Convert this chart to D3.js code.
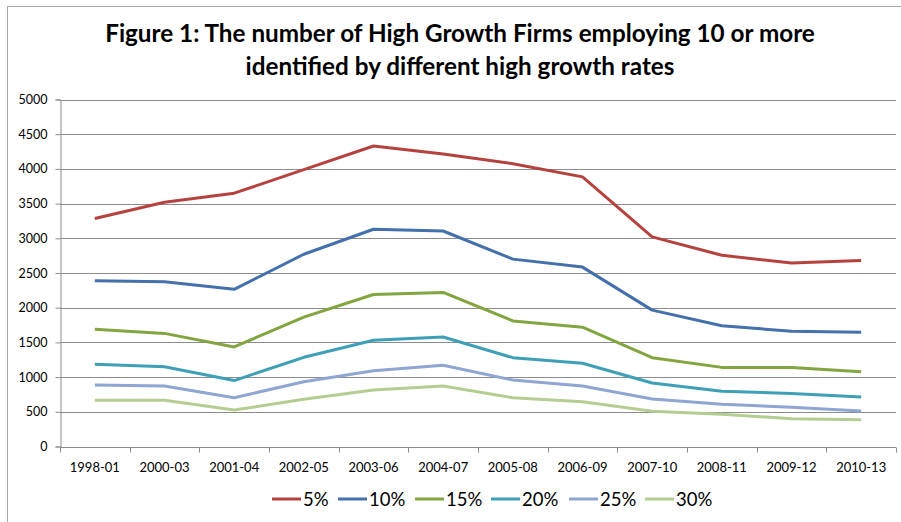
<!DOCTYPE html>
<html>
<head>
<meta charset="utf-8">
<script src="https://cdn.jsdelivr.net/npm/d3@7"></script>
<style>
  body { margin: 0; background: #fff; }
  text { font-family: Lato, "Open Sans", sans-serif; fill: #000; }
</style>
</head>
<body>
<div id="chart"></div>
<script>
////////////////
// Data
////////////////

var periods = ['1998-01','2000-03','2001-04','2002-05','2003-06','2004-07',
               '2005-08','2006-09','2007-10','2008-11','2009-12','2010-13']

var rates = ['5%','10%','15%','20%','25%','30%']

var rate5  = [3285, 3520, 3650, 3990, 4330, 4215, 4075, 3885, 3020, 2755, 2645, 2680]
var rate10 = [2390, 2375, 2265, 2770, 3130, 3105, 2700, 2585, 1965, 1740, 1660, 1645]
var rate15 = [1690, 1630, 1435, 1865, 2190, 2220, 1810, 1720, 1280, 1140, 1140, 1078]
var rate20 = [1185, 1150,  950, 1285, 1530, 1578, 1280, 1200,  915,  795,  765,  715]
var rate25 = [ 886,  872,  703,  934, 1092, 1170,  958,  872,  684,  608,  565,  512]
var rate30 = [ 666,  666,  526,  680,  814,  872,  703,  646,  507,  464,  401,  386]

var yTicks = [0,500,1000,1500,2000,2500,3000,3500,4000,4500,5000]

var colors = ['#B6423F','#4470AC','#82A540','#3E9FB7','#8FA5D2','#B5CD92']

var seriesData = [rate5, rate10, rate15, rate20, rate25, rate30]
var series = rates.map(function(r, i) { return {name: r, values: seriesData[i], color: colors[i]} })

////////////////
// Layout
////////////////

var w = 901, h = 522
var plotL = 60, plotR = 896, plotT = 99.5, plotB = 446.5

var svg = d3.select('#chart').append('svg')
  .attr('width', w)
  .attr('height', h)

// chart border (only top & left show in frame)
svg.append('rect')
  .attr('x', 7.5).attr('y', 6.5)
  .attr('width', w + 10).attr('height', h + 10)
  .attr('fill', 'none')
  .attr('stroke', '#a6a6a6')
  .attr('stroke-width', 1)

var x = d3.scaleBand().domain(periods).range([plotL, plotR])
var y = d3.scaleLinear().domain([0, 5000]).range([plotB, plotT])

// gridlines
svg.append('g')
  .selectAll('line')
  .data(yTicks.slice(1))
  .enter()
  .append('line')
  .attr('x1', plotL).attr('x2', plotR)
  .attr('y1', d => Math.round(y(d)) + 0.5)
  .attr('y2', d => Math.round(y(d)) + 0.5)
  .attr('stroke', '#8c8c8c')
  .attr('stroke-width', 1)

// y axis
var yAxis = svg.append('g')
  .attr('transform', 'translate(' + (plotL + 0.5) + ',0)')
  .call(d3.axisLeft(y).tickValues(yTicks).tickSize(5).tickPadding(8).tickFormat(d3.format('d')))
yAxis.select('.domain').attr('stroke', '#8c8c8c')
yAxis.selectAll('.tick line').attr('stroke', '#8c8c8c')
yAxis.selectAll('.tick text').attr('font-size', '12.5px').attr('fill', '#000')
  .style('font-family', 'Lato, sans-serif')

// x axis (ticks on category boundaries)
var xg = svg.append('g')
  .attr('transform', 'translate(0,' + (Math.round(plotB) + 0.5) + ')')
xg.append('line')
  .attr('x1', plotL).attr('x2', plotR)
  .attr('stroke', '#8c8c8c')
xg.selectAll('line.tk')
  .data(periods.concat(['end']))
  .enter()
  .append('line')
  .attr('class', 'tk')
  .attr('x1', (d, i) => Math.round(plotL + i * x.bandwidth()) + 0.5)
  .attr('x2', (d, i) => Math.round(plotL + i * x.bandwidth()) + 0.5)
  .attr('y1', 0).attr('y2', 5)
  .attr('stroke', '#8c8c8c')
xg.selectAll('text')
  .data(periods)
  .enter()
  .append('text')
  .attr('x', d => x(d) + x.bandwidth() / 2)
  .attr('y', 24)
  .attr('text-anchor', 'middle')
  .attr('font-size', '13px')
  .text(d => d)

// lines
var line = d3.line()
  .x((d, i) => x(periods[i]) + x.bandwidth() / 2)
  .y(d => y(d))

svg.append('g')
  .selectAll('path')
  .data(series)
  .enter()
  .append('path')
  .attr('d', d => line(d.values))
  .attr('fill', 'none')
  .attr('stroke', d => d.color)
  .attr('stroke-width', 3)
  .attr('stroke-linejoin', 'round')

// title, fitted to the reference width
var titleLines = ['Figure 1: The number of High Growth Firms employing 10 or more',
                  'identified by different high growth rates']
var title = svg.append('text')
  .attr('text-anchor', 'middle')
  .attr('font-weight', 'bold')
  .attr('font-size', '23px')
title.selectAll('tspan')
  .data(titleLines)
  .enter()
  .append('tspan')
  .attr('x', 460)
  .attr('y', (d, i) => 42 + i * 32.5)
  .text(d => d)
var tw = title.select('tspan').node().getComputedTextLength()
title.attr('font-size', (23 * 710 / tw) + 'px')

// legend
var legendX = [272, 338, 415, 491, 569, 645]
var lg = svg.append('g').selectAll('g')
  .data(series)
  .enter()
  .append('g')
  .attr('transform', (d, i) => 'translate(' + legendX[i] + ',499)')
lg.append('line')
  .attr('x1', 0).attr('x2', 29)
  .attr('stroke', d => d.color)
  .attr('stroke-width', 3)
lg.append('text')
  .attr('x', 31)
  .attr('y', 6.5)
  .attr('font-size', '18.5px')
  .text(d => d.name)
</script>
</body>
</html>
